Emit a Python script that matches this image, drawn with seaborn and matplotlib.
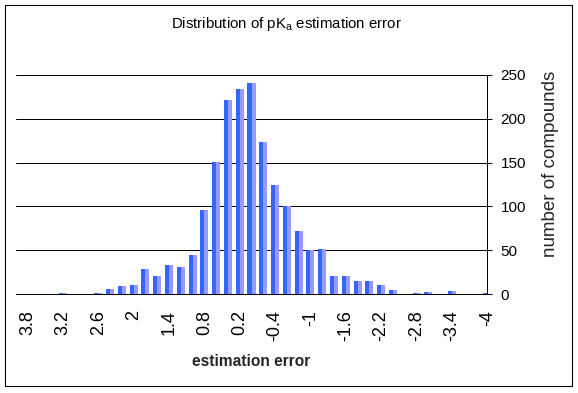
import matplotlib
matplotlib.use("Agg")
import matplotlib.pyplot as plt
import pandas as pd
import seaborn as sns
from matplotlib.patches import Rectangle

# Category bins of the estimation error (left to right)
categories = ["4", "3.8", "3.6", "3.4", "3.2", "3", "2.8", "2.6", "2.4", "2.2",
              "2", "1.8", "1.6", "1.4", "1.2", "1", "0.8", "0.6", "0.4", "0.2",
              "0", "-0.2", "-0.4", "-0.6", "-0.8", "-1", "-1.2", "-1.4", "-1.6", "-1.8",
              "-2", "-2.2", "-2.4", "-2.6", "-2.8", "-3", "-3.2", "-3.4", "-3.6", "-3.8",
              "-4"]
# number of compounds per bin
counts = [0, 0, 0, 0, 1, 0, 0, 1, 6, 9,
          10, 29, 21, 33, 31, 45, 96, 151, 222, 234,
          241, 174, 124, 100, 72, 50, 51, 21, 21, 15,
          15, 10, 5, 0, 1, 2, 0, 3, 0, 0,
          1]
# labels shown on the category axis
tick_labels = ["3.8", "3.2", "2.6", "2", "1.4", "0.8", "0.2", "-0.4", "-1",
               "-1.6", "-2.2", "-2.8", "-3.4", "-4"]
y_ticks = [0, 50, 100, 150, 200, 250]
series = ["shade dark", "shade light"]
colors = ["#3366FF", "#9999FF"]

sns.set_style("white")
plt.rcParams["font.family"] = ["Liberation Sans", "DejaVu Sans"]
plt.rcParams["mathtext.fontset"] = "custom"
plt.rcParams["mathtext.rm"] = "Liberation Sans"
plt.rcParams["text.color"] = "black"

W, H = 578, 393
fig = plt.figure(figsize=(W / 100, H / 100), dpi=100)
fig.patch.set_facecolor("white")
x0, x1, ytop, ybot = 15.7, 487.3, 75.0, 294.0
ax = fig.add_axes([x0 / W, 1 - ybot / H, (x1 - x0) / W, (ybot - ytop) / H])

df = pd.DataFrame({
    "error": categories * 2,
    "count": counts * 2,
    "series": [series[0]] * len(categories) + [series[1]] * len(categories),
})
sns.barplot(data=df, x="error", y="count", hue="series", order=categories,
            hue_order=series, palette=colors, width=0.68, linewidth=0,
            saturation=1, legend=False, errorbar=None, ax=ax)

ax.set_xlim(0, len(categories) - 1)
ax.set_ylim(0, 250)
ax.set_xticks(range(len(categories)),
              labels=[c if c in tick_labels else "" for c in categories])
ax.tick_params(axis="x", direction="out", length=4.3, width=0.72, pad=7.2,
               labelsize=13, labelrotation=90, colors="black")

ax.yaxis.tick_right()
ax.set_yticks(y_ticks)
ax.tick_params(axis="y", direction="out", length=3.6, width=0.72, pad=6,
               labelsize=11, colors="black")
ax.grid(axis="y", color="black", linewidth=0.72)
ax.grid(axis="x", visible=False)
ax.set_axisbelow(True)

for s in ["left", "top"]:
    ax.spines[s].set_visible(False)
for s in ["right", "bottom"]:
    ax.spines[s].set_color("black")
    ax.spines[s].set_linewidth(0.72)

ax.set_xlabel("estimation error", fontsize=11.2, fontweight="bold")
ax.xaxis.set_label_coords(0.5, (ybot - 362) / (ybot - ytop))
ax.xaxis.label.set_va("center")

ax.yaxis.set_label_position("right")
ax.set_ylabel("number of compounds", fontsize=13.5, rotation=90)
ax.yaxis.set_label_coords((550 - x0) / (x1 - x0), (ybot - 164) / (ybot - ytop))
ax.yaxis.label.set_va("center")
ax.yaxis.label.set_ha("center")

ax.set_title("Distribution of pK$_\\mathregular{a}$ estimation error",
             fontsize=10.8, x=(286 - x0) / (x1 - x0),
             y=(ybot - 36) / (ybot - ytop), va="baseline")

fig.add_artist(Rectangle((5 / W, 1 - 385.7 / H), (571.7 - 5) / W, (385.7 - 5) / H,
                         transform=fig.transFigure, fill=False,
                         edgecolor="black", linewidth=0.8))

fig.savefig("out.png", dpi=100)
